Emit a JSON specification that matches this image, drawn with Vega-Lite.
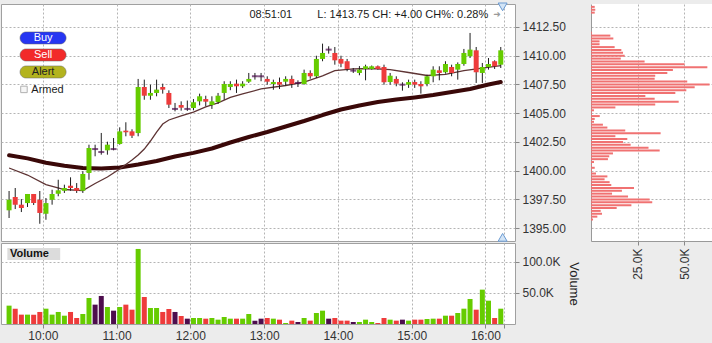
{
  "$schema": "https://vega.github.io/schema/vega-lite/v6.json",
  "background": "#ececec",
  "padding": {"left": 0, "top": 0, "right": 0, "bottom": 6},
  "config": {
    "font": "Liberation Sans",
    "view": {"fill": "#ffffff", "stroke": "#a0a0a0"},
    "axis": {"labelFont": "Liberation Sans", "labelFontSize": 12, "labelColor": "#333333", "gridColor": "#b4b4b4", "gridDash": [2, 2], "gridWidth": 1, "tickColor": "#888888", "tickSize": 4, "domainColor": "#999999", "titleFont": "Liberation Sans", "labelOverlap": false}
  },
  "spacing": {"row": 2, "column": 76},
  "bounds": "flush",
  "columns": 2,
  "datasets": {
    "candles": [
      {"t":572.5,"o":1396.55,"h":1398.23,"l":1395.88,"c":1397.47,"v":29.6,"dir":"up"},
      {"t":577.5,"o":1397.71,"h":1398.49,"l":1396.66,"c":1397.04,"v":24.7,"dir":"down"},
      {"t":582.5,"o":1397.04,"h":1397.53,"l":1396.40,"c":1396.75,"v":15.1,"dir":"down"},
      {"t":587.5,"o":1397.18,"h":1397.97,"l":1396.84,"c":1397.97,"v":15.1,"dir":"up"},
      {"t":592.5,"o":1397.97,"h":1397.97,"l":1397.01,"c":1397.18,"v":15.1,"dir":"down"},
      {"t":597.5,"o":1397.47,"h":1398.23,"l":1395.38,"c":1396.32,"v":19.4,"dir":"down"},
      {"t":602.5,"o":1396.25,"h":1397.62,"l":1395.73,"c":1397.18,"v":24.7,"dir":"up"},
      {"t":607.5,"o":1397.47,"h":1398.34,"l":1397.04,"c":1397.97,"v":15.1,"dir":"up"},
      {"t":612.5,"o":1397.99,"h":1399.21,"l":1397.77,"c":1398.29,"v":19.4,"dir":"up"},
      {"t":617.5,"o":1398.25,"h":1398.78,"l":1398.06,"c":1398.49,"v":13.4,"dir":"up"},
      {"t":622.5,"o":1398.69,"h":1399.42,"l":1398.25,"c":1398.49,"v":19.4,"dir":"down"},
      {"t":627.5,"o":1398.49,"h":1398.92,"l":1398.06,"c":1398.25,"v":9.7,"dir":"down"},
      {"t":632.5,"o":1398.25,"h":1399.94,"l":1398.06,"c":1399.71,"v":16.1,"dir":"up"},
      {"t":637.5,"o":1399.80,"h":1402.26,"l":1399.21,"c":1401.97,"v":41.9,"dir":"up"},
      {"t":642.5,"o":1401.88,"h":1402.26,"l":1401.25,"c":1401.88,"v":31.2,"dir":"flat"},
      {"t":647.5,"o":1401.62,"h":1403.28,"l":1401.39,"c":1401.62,"v":45.2,"dir":"flat"},
      {"t":652.5,"o":1401.77,"h":1402.52,"l":1401.39,"c":1402.26,"v":27.4,"dir":"up"},
      {"t":657.5,"o":1401.88,"h":1402.84,"l":1401.77,"c":1401.88,"v":21.5,"dir":"flat"},
      {"t":662.5,"o":1402.32,"h":1403.77,"l":1402.26,"c":1403.42,"v":27.4,"dir":"up"},
      {"t":667.5,"o":1403.48,"h":1404.21,"l":1402.99,"c":1403.34,"v":31.2,"dir":"down"},
      {"t":672.5,"o":1403.42,"h":1403.60,"l":1402.84,"c":1403.04,"v":23.1,"dir":"down"},
      {"t":677.5,"o":1403.27,"h":1407.98,"l":1402.99,"c":1407.28,"v":121.0,"dir":"up"},
      {"t":682.5,"o":1407.28,"h":1407.92,"l":1406.17,"c":1406.52,"v":43.5,"dir":"down"},
      {"t":687.5,"o":1406.52,"h":1407.48,"l":1406.17,"c":1406.76,"v":25.8,"dir":"up"},
      {"t":692.5,"o":1406.76,"h":1407.92,"l":1406.47,"c":1407.05,"v":25.8,"dir":"up"},
      {"t":697.5,"o":1407.28,"h":1407.57,"l":1406.70,"c":1407.05,"v":19.4,"dir":"down"},
      {"t":702.5,"o":1406.76,"h":1406.99,"l":1405.45,"c":1405.74,"v":24.2,"dir":"down"},
      {"t":707.5,"o":1405.37,"h":1405.89,"l":1405.16,"c":1405.37,"v":19.4,"dir":"flat"},
      {"t":712.5,"o":1405.71,"h":1406.03,"l":1405.22,"c":1405.48,"v":12.9,"dir":"down"},
      {"t":717.5,"o":1405.37,"h":1406.10,"l":1405.20,"c":1405.37,"v":8.6,"dir":"flat"},
      {"t":722.5,"o":1405.45,"h":1406.23,"l":1405.25,"c":1405.95,"v":9.7,"dir":"up"},
      {"t":727.5,"o":1406.03,"h":1406.70,"l":1405.68,"c":1406.47,"v":9.7,"dir":"up"},
      {"t":732.5,"o":1406.23,"h":1406.52,"l":1405.60,"c":1406.00,"v":8.6,"dir":"down"},
      {"t":737.5,"o":1405.71,"h":1406.47,"l":1405.37,"c":1406.03,"v":9.7,"dir":"up"},
      {"t":742.5,"o":1405.97,"h":1406.76,"l":1405.80,"c":1406.52,"v":7.0,"dir":"up"},
      {"t":747.5,"o":1406.76,"h":1407.78,"l":1406.17,"c":1407.54,"v":11.3,"dir":"up"},
      {"t":752.5,"o":1407.28,"h":1407.78,"l":1407.00,"c":1407.54,"v":8.6,"dir":"up"},
      {"t":757.5,"o":1407.57,"h":1407.92,"l":1406.76,"c":1407.34,"v":8.6,"dir":"down"},
      {"t":762.5,"o":1407.34,"h":1407.78,"l":1407.20,"c":1407.57,"v":8.6,"dir":"up"},
      {"t":767.5,"o":1407.74,"h":1408.50,"l":1407.63,"c":1407.98,"v":16.1,"dir":"up"},
      {"t":772.5,"o":1408.21,"h":1408.50,"l":1407.92,"c":1408.21,"v":5.4,"dir":"flat"},
      {"t":777.5,"o":1408.21,"h":1408.50,"l":1407.78,"c":1408.21,"v":8.6,"dir":"flat"},
      {"t":782.5,"o":1407.98,"h":1408.21,"l":1407.48,"c":1407.74,"v":9.7,"dir":"down"},
      {"t":787.5,"o":1407.54,"h":1407.92,"l":1407.04,"c":1407.71,"v":8.6,"dir":"up"},
      {"t":792.5,"o":1407.71,"h":1408.10,"l":1407.10,"c":1407.48,"v":7.0,"dir":"down"},
      {"t":797.5,"o":1407.74,"h":1408.21,"l":1407.39,"c":1407.98,"v":1.6,"dir":"up"},
      {"t":802.5,"o":1407.98,"h":1408.27,"l":1407.20,"c":1407.54,"v":5.4,"dir":"down"},
      {"t":807.5,"o":1407.63,"h":1407.86,"l":1407.28,"c":1407.63,"v":3.2,"dir":"flat"},
      {"t":812.5,"o":1407.54,"h":1408.79,"l":1407.48,"c":1408.50,"v":9.7,"dir":"up"},
      {"t":817.5,"o":1408.50,"h":1408.73,"l":1408.00,"c":1408.21,"v":5.4,"dir":"down"},
      {"t":822.5,"o":1408.21,"h":1410.00,"l":1408.06,"c":1409.72,"v":17.7,"dir":"up"},
      {"t":827.5,"o":1409.72,"h":1411.05,"l":1409.52,"c":1410.24,"v":21.5,"dir":"up"},
      {"t":832.5,"o":1410.53,"h":1410.82,"l":1410.18,"c":1410.53,"v":8.6,"dir":"flat"},
      {"t":837.5,"o":1410.24,"h":1410.76,"l":1409.22,"c":1409.60,"v":9.7,"dir":"down"},
      {"t":842.5,"o":1409.72,"h":1410.00,"l":1409.00,"c":1409.31,"v":5.4,"dir":"down"},
      {"t":847.5,"o":1409.52,"h":1409.72,"l":1408.65,"c":1408.85,"v":5.4,"dir":"down"},
      {"t":852.5,"o":1408.70,"h":1408.93,"l":1408.50,"c":1408.70,"v":3.2,"dir":"flat"},
      {"t":857.5,"o":1408.50,"h":1409.10,"l":1408.30,"c":1408.79,"v":3.2,"dir":"up"},
      {"t":862.5,"o":1408.85,"h":1409.22,"l":1407.86,"c":1409.08,"v":7.0,"dir":"up"},
      {"t":867.5,"o":1408.85,"h":1409.15,"l":1408.79,"c":1409.08,"v":3.2,"dir":"up"},
      {"t":872.5,"o":1409.08,"h":1409.15,"l":1408.79,"c":1408.85,"v":1.6,"dir":"down"},
      {"t":877.5,"o":1409.02,"h":1409.22,"l":1407.48,"c":1407.69,"v":9.7,"dir":"down"},
      {"t":882.5,"o":1407.71,"h":1408.50,"l":1407.48,"c":1408.26,"v":7.0,"dir":"up"},
      {"t":887.5,"o":1407.98,"h":1408.21,"l":1407.34,"c":1407.57,"v":5.4,"dir":"down"},
      {"t":892.5,"o":1407.48,"h":1407.69,"l":1406.96,"c":1407.48,"v":7.0,"dir":"flat"},
      {"t":897.5,"o":1407.48,"h":1407.92,"l":1407.20,"c":1407.71,"v":5.4,"dir":"up"},
      {"t":902.5,"o":1407.71,"h":1407.92,"l":1407.20,"c":1407.48,"v":7.0,"dir":"down"},
      {"t":907.5,"o":1407.54,"h":1407.78,"l":1406.70,"c":1407.34,"v":7.0,"dir":"down"},
      {"t":912.5,"o":1407.54,"h":1408.35,"l":1407.34,"c":1408.21,"v":8.1,"dir":"up"},
      {"t":917.5,"o":1408.21,"h":1409.08,"l":1407.69,"c":1408.79,"v":8.6,"dir":"up"},
      {"t":922.5,"o":1408.73,"h":1409.08,"l":1407.86,"c":1408.50,"v":8.6,"dir":"down"},
      {"t":927.5,"o":1408.56,"h":1409.52,"l":1408.44,"c":1409.28,"v":13.4,"dir":"up"},
      {"t":932.5,"o":1409.02,"h":1409.22,"l":1408.21,"c":1408.50,"v":13.4,"dir":"down"},
      {"t":937.5,"o":1408.79,"h":1409.42,"l":1407.92,"c":1409.28,"v":17.7,"dir":"up"},
      {"t":942.5,"o":1409.28,"h":1410.59,"l":1409.13,"c":1410.24,"v":24.7,"dir":"up"},
      {"t":947.5,"o":1409.95,"h":1411.98,"l":1409.80,"c":1410.53,"v":40.3,"dir":"up"},
      {"t":952.5,"o":1410.47,"h":1410.76,"l":1407.63,"c":1408.56,"v":23.1,"dir":"down"},
      {"t":957.5,"o":1408.50,"h":1409.37,"l":1407.63,"c":1409.02,"v":55.4,"dir":"up"},
      {"t":962.5,"o":1409.02,"h":1409.80,"l":1408.79,"c":1409.28,"v":37.6,"dir":"up"},
      {"t":967.5,"o":1409.52,"h":1409.60,"l":1408.85,"c":1409.08,"v":9.7,"dir":"down"},
      {"t":972.5,"o":1409.22,"h":1410.76,"l":1408.93,"c":1410.47,"v":24.7,"dir":"up"}
    ],
    "ma_slow": [
      {"t":572.5,"v":1401.34},{"t":587.5,"v":1401.07},{"t":602.5,"v":1400.69},{"t":617.5,"v":1400.43},
      {"t":632.5,"v":1400.23},{"t":647.5,"v":1400.19},{"t":662.5,"v":1400.27},{"t":677.5,"v":1400.53},
      {"t":692.5,"v":1400.84},{"t":707.5,"v":1401.23},{"t":722.5,"v":1401.55},{"t":737.5,"v":1401.93},
      {"t":752.5,"v":1402.45},{"t":767.5,"v":1402.93},{"t":782.5,"v":1403.36},{"t":797.5,"v":1403.84},
      {"t":812.5,"v":1404.32},{"t":827.5,"v":1404.84},{"t":842.5,"v":1405.32},{"t":857.5,"v":1405.67},
      {"t":872.5,"v":1405.97},{"t":887.5,"v":1406.19},{"t":902.5,"v":1406.37},{"t":917.5,"v":1406.58},
      {"t":932.5,"v":1406.84},{"t":947.5,"v":1407.11},{"t":962.5,"v":1407.50},{"t":972.5,"v":1407.71}
    ],
    "ma_fast": [
      {"t":572.5,"v":1400.23},{"t":587.5,"v":1399.62},{"t":602.5,"v":1398.79},{"t":617.5,"v":1398.36},
      {"t":632.5,"v":1398.27},{"t":642.5,"v":1398.88},{"t":652.5,"v":1399.45},{"t":662.5,"v":1400.14},
      {"t":672.5,"v":1400.93},{"t":677.5,"v":1401.36},{"t":682.5,"v":1401.88},{"t":687.5,"v":1402.58},
      {"t":692.5,"v":1403.36},{"t":697.5,"v":1404.06},{"t":702.5,"v":1404.41},{"t":712.5,"v":1404.76},
      {"t":722.5,"v":1405.10},{"t":732.5,"v":1405.54},{"t":742.5,"v":1405.89},{"t":752.5,"v":1406.37},
      {"t":762.5,"v":1406.67},{"t":777.5,"v":1407.11},{"t":797.5,"v":1407.41},{"t":812.5,"v":1407.70},
      {"t":827.5,"v":1408.25},{"t":837.5,"v":1408.70},{"t":852.5,"v":1408.85},{"t":867.5,"v":1408.89},
      {"t":882.5,"v":1408.79},{"t":897.5,"v":1408.54},{"t":912.5,"v":1408.28},{"t":927.5,"v":1408.37},
      {"t":942.5,"v":1408.70},{"t":957.5,"v":1408.93},{"t":972.5,"v":1409.13}
    ],
    "profile": [
      {"p":1414.25,"w":2.0},{"p":1414.0,"w":2.3},{"p":1413.75,"w":2.0},{"p":1412.0,"w":0.5},
      {"p":1411.75,"w":10.4},{"p":1411.5,"w":12.0},{"p":1411.25,"w":4.6},{"p":1411.0,"w":4.6},
      {"p":1410.75,"w":12.7},{"p":1410.5,"w":16.3},{"p":1410.25,"w":17.2},{"p":1410.0,"w":18.1},
      {"p":1409.75,"w":16.0},{"p":1409.5,"w":28.8},{"p":1409.25,"w":50.3},{"p":1409.0,"w":62.5},
      {"p":1408.75,"w":44.0},{"p":1408.5,"w":41.0},{"p":1408.25,"w":34.5},{"p":1408.0,"w":34.2},
      {"p":1407.75,"w":51.7},{"p":1407.5,"w":63.7},{"p":1407.25,"w":55.7},{"p":1407.0,"w":51.2},
      {"p":1406.75,"w":45.3},{"p":1406.5,"w":29.2},{"p":1406.25,"w":34.2},{"p":1406.0,"w":47.1},
      {"p":1405.75,"w":34.5},{"p":1405.5,"w":13.1},{"p":1405.25,"w":1.6},{"p":1405.0,"w":0.5},
      {"p":1404.75,"w":4.7},{"p":1404.5,"w":2.0},{"p":1404.25,"w":1.6},{"p":1404.0,"w":6.4},
      {"p":1403.75,"w":8.8},{"p":1403.5,"w":18.4},{"p":1403.25,"w":37.4},{"p":1403.0,"w":13.1},
      {"p":1402.75,"w":19.5},{"p":1402.5,"w":17.2},{"p":1402.25,"w":21.3},{"p":1402.0,"w":30.9},
      {"p":1401.75,"w":36.9},{"p":1401.5,"w":11.8},{"p":1401.25,"w":9.8},{"p":1401.0,"w":9.1},
      {"p":1400.75,"w":1.6},{"p":1400.5,"w":0.5},{"p":1400.25,"w":2.0},{"p":1400.0,"w":0.5},
      {"p":1399.75,"w":2.7},{"p":1399.5,"w":8.8},{"p":1399.25,"w":7.3},{"p":1399.0,"w":10.0},
      {"p":1398.75,"w":10.9},{"p":1398.5,"w":23.1},{"p":1398.25,"w":16.6},{"p":1398.0,"w":11.3},
      {"p":1397.75,"w":19.9},{"p":1397.5,"w":31.5},{"p":1397.25,"w":32.9},{"p":1397.0,"w":21.7},
      {"p":1396.75,"w":13.8},{"p":1396.5,"w":5.2},{"p":1396.25,"w":5.9},{"p":1396.0,"w":3.4},
      {"p":1395.75,"w":1.1}
    ],
    "buttons": [
      {"label":"Buy","t1":581.4,"t2":618.9,"p1":1412.07,"p2":1411.02,"tm":600.2,"pm":1411.54},
      {"label":"Sell","t1":581.4,"t2":618.9,"p1":1410.59,"p2":1409.54,"tm":600.2,"pm":1410.06},
      {"label":"Alert","t1":581.4,"t2":618.9,"p1":1409.11,"p2":1408.06,"tm":600.2,"pm":1408.59}
    ],
    "labels": [
      {"kind":"clock","t":785.4,"p":1413.55,"txt":"08:51:01"},
      {"kind":"quote","t":962.3,"p":1413.55,"txt":"L: 1413.75 CH: +4.00 CH%: 0.28%"},
      {"kind":"arrow","t":969.5,"p":1413.6,"txt":"➜"},
      {"kind":"armed","t":590.6,"p":1407.04,"txt":"Armed"}
    ],
    "checkbox": [{"t":584.6,"p":1407.07}],
    "scroll": [{"t":974.0,"p":1414.25,"dir":"down"},{"t":974.0,"p":1394.2,"dir":"up"}],
    "voltag": [{"label":"Volume","t1":571.1,"t2":614.1,"v1":103.2,"v2":122.5,"tt":573.2,"vt":112.9}]
  },
  "concat": [
    {
      "width": 514,
      "height": 237,
      "layer": [
        {
          "data": {"name": "ma_slow"},
          "mark": {"type": "line", "color": "#3a0808", "strokeWidth": 4, "strokeCap": "round", "strokeJoin": "round"},
          "encoding": {
            "x": {"field": "t", "type": "quantitative", "scale": {"domain": [570, 980], "nice": false, "zero": false},
                  "axis": {"orient": "bottom", "values": [600, 660, 720, 780, 840, 900, 960, 975], "labels": false, "ticks": false, "domain": false, "grid": true, "title": null}},
            "y": {"field": "v", "type": "quantitative", "scale": {"domain": [1393.88, 1414.5], "nice": false, "zero": false},
                  "axis": {"orient": "right", "values": [1395, 1397.5, 1400, 1402.5, 1405, 1407.5, 1410, 1412.5], "format": ".2f", "grid": true, "domain": false, "labelPadding": 3, "title": null}}
          }
        },
        {
          "mark": {"type": "rule", "color": "#7a7a7a", "strokeDash": [6, 3], "strokeWidth": 1},
          "encoding": {"y": {"datum": 1409.8, "type": "quantitative",
                  "axis": {"orient": "right", "values": [1395, 1397.5, 1400, 1402.5, 1405, 1407.5, 1410, 1412.5], "format": ".2f", "grid": true, "domain": false, "labelPadding": 3, "title": null}}}
        },
        {
          "data": {"name": "ma_fast"},
          "mark": {"type": "line", "color": "#5e3434", "strokeWidth": 1.3},
          "encoding": {
            "x": {"field": "t", "type": "quantitative",
                  "axis": {"orient": "bottom", "values": [600, 660, 720, 780, 840, 900, 960, 975], "labels": false, "ticks": false, "domain": false, "grid": true, "title": null}},
            "y": {"field": "v", "type": "quantitative",
                  "axis": {"orient": "right", "values": [1395, 1397.5, 1400, 1402.5, 1405, 1407.5, 1410, 1412.5], "format": ".2f", "grid": true, "domain": false, "labelPadding": 3, "title": null}}
          }
        },
        {
          "data": {"name": "candles"},
          "mark": {"type": "rule", "color": "#1e1e1e", "strokeWidth": 1},
          "encoding": {
            "x": {"field": "t", "type": "quantitative",
                  "axis": {"orient": "bottom", "values": [600, 660, 720, 780, 840, 900, 960, 975], "labels": false, "ticks": false, "domain": false, "grid": true, "title": null}},
            "y": {"field": "l", "type": "quantitative",
                  "axis": {"orient": "right", "values": [1395, 1397.5, 1400, 1402.5, 1405, 1407.5, 1410, 1412.5], "format": ".2f", "grid": true, "domain": false, "labelPadding": 3, "title": null}},
            "y2": {"field": "h"}
          }
        },
        {
          "data": {"name": "candles"},
          "mark": {"type": "bar", "size": 5},
          "encoding": {
            "x": {"field": "t", "type": "quantitative",
                  "axis": {"orient": "bottom", "values": [600, 660, 720, 780, 840, 900, 960, 975], "labels": false, "ticks": false, "domain": false, "grid": true, "title": null}},
            "y": {"field": "o", "type": "quantitative",
                  "axis": {"orient": "right", "values": [1395, 1397.5, 1400, 1402.5, 1405, 1407.5, 1410, 1412.5], "format": ".2f", "grid": true, "domain": false, "labelPadding": 3, "title": null}},
            "y2": {"field": "c"},
            "color": {"field": "dir", "type": "nominal", "scale": {"domain": ["up", "down", "flat"], "range": ["#66cc00", "#ee3b3b", "#4d0d4d"]}, "legend": null}
          }
        },
        {
          "data": {"name": "candles"},
          "transform": [{"filter": "datum.dir === 'flat'"}],
          "mark": {"type": "tick", "orient": "horizontal", "size": 6, "thickness": 2, "color": "#4d0d4d"},
          "encoding": {
            "x": {"field": "t", "type": "quantitative",
                  "axis": {"orient": "bottom", "values": [600, 660, 720, 780, 840, 900, 960, 975], "labels": false, "ticks": false, "domain": false, "grid": true, "title": null}},
            "y": {"field": "o", "type": "quantitative",
                  "axis": {"orient": "right", "values": [1395, 1397.5, 1400, 1402.5, 1405, 1407.5, 1410, 1412.5], "format": ".2f", "grid": true, "domain": false, "labelPadding": 3, "title": null}}
          }
        },
        {
          "data": {"name": "buttons"},
          "mark": {"type": "rect", "cornerRadius": 6, "stroke": "#666666", "strokeWidth": 0.5},
          "encoding": {
            "x": {"field": "t1", "type": "quantitative",
                  "axis": {"orient": "bottom", "values": [600, 660, 720, 780, 840, 900, 960, 975], "labels": false, "ticks": false, "domain": false, "grid": true, "title": null}},
            "x2": {"field": "t2"},
            "y": {"field": "p1", "type": "quantitative",
                  "axis": {"orient": "right", "values": [1395, 1397.5, 1400, 1402.5, 1405, 1407.5, 1410, 1412.5], "format": ".2f", "grid": true, "domain": false, "labelPadding": 3, "title": null}},
            "y2": {"field": "p2"},
            "fill": {"condition": [{"test": "datum.label === 'Buy'", "value": "#2636f2"}, {"test": "datum.label === 'Sell'", "value": "#f22a2a"}], "value": "#b3b31e"}
          }
        },
        {
          "data": {"name": "buttons"},
          "mark": {"type": "text", "fontSize": 11, "align": "center", "baseline": "middle"},
          "encoding": {
            "x": {"field": "tm", "type": "quantitative",
                  "axis": {"orient": "bottom", "values": [600, 660, 720, 780, 840, 900, 960, 975], "labels": false, "ticks": false, "domain": false, "grid": true, "title": null}},
            "y": {"field": "pm", "type": "quantitative",
                  "axis": {"orient": "right", "values": [1395, 1397.5, 1400, 1402.5, 1405, 1407.5, 1410, 1412.5], "format": ".2f", "grid": true, "domain": false, "labelPadding": 3, "title": null}},
            "text": {"field": "label"},
            "color": {"condition": {"test": "datum.label === 'Alert'", "value": "#222222"}, "value": "#ffffff"}
          }
        },
        {
          "data": {"name": "checkbox"},
          "mark": {"type": "square", "size": 42, "fill": "#f6f6f6", "stroke": "#b0b0b0", "strokeWidth": 1, "opacity": 1},
          "encoding": {
            "x": {"field": "t", "type": "quantitative",
                  "axis": {"orient": "bottom", "values": [600, 660, 720, 780, 840, 900, 960, 975], "labels": false, "ticks": false, "domain": false, "grid": true, "title": null}},
            "y": {"field": "p", "type": "quantitative",
                  "axis": {"orient": "right", "values": [1395, 1397.5, 1400, 1402.5, 1405, 1407.5, 1410, 1412.5], "format": ".2f", "grid": true, "domain": false, "labelPadding": 3, "title": null}}
          }
        },
        {
          "data": {"name": "labels"},
          "transform": [{"filter": "datum.kind === 'clock'"}],
          "mark": {"type": "text", "fontSize": 11, "align": "center", "baseline": "middle", "color": "#1a1a1a"},
          "encoding": {
            "x": {"field": "t", "type": "quantitative",
                  "axis": {"orient": "bottom", "values": [600, 660, 720, 780, 840, 900, 960, 975], "labels": false, "ticks": false, "domain": false, "grid": true, "title": null}},
            "y": {"field": "p", "type": "quantitative",
                  "axis": {"orient": "right", "values": [1395, 1397.5, 1400, 1402.5, 1405, 1407.5, 1410, 1412.5], "format": ".2f", "grid": true, "domain": false, "labelPadding": 3, "title": null}},
            "text": {"field": "txt"}
          }
        },
        {
          "data": {"name": "labels"},
          "transform": [{"filter": "datum.kind === 'quote'"}],
          "mark": {"type": "text", "fontSize": 11, "align": "right", "baseline": "middle", "color": "#1a1a1a"},
          "encoding": {
            "x": {"field": "t", "type": "quantitative",
                  "axis": {"orient": "bottom", "values": [600, 660, 720, 780, 840, 900, 960, 975], "labels": false, "ticks": false, "domain": false, "grid": true, "title": null}},
            "y": {"field": "p", "type": "quantitative",
                  "axis": {"orient": "right", "values": [1395, 1397.5, 1400, 1402.5, 1405, 1407.5, 1410, 1412.5], "format": ".2f", "grid": true, "domain": false, "labelPadding": 3, "title": null}},
            "text": {"field": "txt"}
          }
        },
        {
          "data": {"name": "labels"},
          "transform": [{"filter": "datum.kind === 'arrow'"}],
          "mark": {"type": "text", "fontSize": 9, "align": "center", "baseline": "middle", "color": "#9a9a9a", "font": "DejaVu Sans"},
          "encoding": {
            "x": {"field": "t", "type": "quantitative",
                  "axis": {"orient": "bottom", "values": [600, 660, 720, 780, 840, 900, 960, 975], "labels": false, "ticks": false, "domain": false, "grid": true, "title": null}},
            "y": {"field": "p", "type": "quantitative",
                  "axis": {"orient": "right", "values": [1395, 1397.5, 1400, 1402.5, 1405, 1407.5, 1410, 1412.5], "format": ".2f", "grid": true, "domain": false, "labelPadding": 3, "title": null}},
            "text": {"field": "txt"}
          }
        },
        {
          "data": {"name": "labels"},
          "transform": [{"filter": "datum.kind === 'armed'"}],
          "mark": {"type": "text", "fontSize": 11, "align": "left", "baseline": "middle", "color": "#1a1a1a"},
          "encoding": {
            "x": {"field": "t", "type": "quantitative",
                  "axis": {"orient": "bottom", "values": [600, 660, 720, 780, 840, 900, 960, 975], "labels": false, "ticks": false, "domain": false, "grid": true, "title": null}},
            "y": {"field": "p", "type": "quantitative",
                  "axis": {"orient": "right", "values": [1395, 1397.5, 1400, 1402.5, 1405, 1407.5, 1410, 1412.5], "format": ".2f", "grid": true, "domain": false, "labelPadding": 3, "title": null}},
            "text": {"field": "txt"}
          }
        },
        {
          "data": {"name": "scroll"},
          "mark": {"type": "point", "filled": true, "size": 80, "fill": "#d3e4f5", "stroke": "#6a9ad2", "strokeWidth": 1, "opacity": 1},
          "encoding": {
            "x": {"field": "t", "type": "quantitative",
                  "axis": {"orient": "bottom", "values": [600, 660, 720, 780, 840, 900, 960, 975], "labels": false, "ticks": false, "domain": false, "grid": true, "title": null}},
            "y": {"field": "p", "type": "quantitative",
                  "axis": {"orient": "right", "values": [1395, 1397.5, 1400, 1402.5, 1405, 1407.5, 1410, 1412.5], "format": ".2f", "grid": true, "domain": false, "labelPadding": 3, "title": null}},
            "shape": {"field": "dir", "type": "nominal", "scale": {"domain": ["up", "down"], "range": ["triangle-up", "triangle-down"]}, "legend": null}
          }
        }
      ]
    },
    {
      "width": 121,
      "height": 237,
      "view": {"stroke": null},
      "data": {"name": "profile"},
      "mark": {"type": "rule", "color": "#f07272", "strokeWidth": 2},
      "encoding": {
        "x": {"field": "w", "type": "quantitative", "scale": {"domain": [0, 65], "nice": false, "zero": true},
              "axis": {"orient": "bottom", "values": [25, 50], "labelExpr": "format(datum.value, '.1f') + 'K'", "labelAngle": -90, "grid": true, "domain": true, "ticks": true, "labelPadding": 3, "title": null}},
        "x2": {"datum": 0},
        "y": {"field": "p", "type": "quantitative", "scale": {"domain": [1393.88, 1414.5], "nice": false, "zero": false},
              "axis": {"orient": "left", "values": [1395, 1397.5, 1400, 1402.5, 1405, 1407.5, 1410, 1412.5], "labels": false, "ticks": false, "domain": true, "grid": true, "title": null}}
      }
    },
    {
      "width": 514,
      "height": 81,
      "layer": [
        {
          "data": {"name": "candles"},
          "mark": {"type": "bar", "size": 5},
          "encoding": {
            "x": {"field": "t", "type": "quantitative", "scale": {"domain": [570, 980], "nice": false, "zero": false},
                  "axis": {"orient": "bottom", "values": [600, 660, 720, 780, 840, 900, 960, 975], "labelExpr": "datum.value == 975 ? '' : floor(datum.value / 60) + ':00'", "grid": true, "domain": false, "ticks": true, "labelFlush": false, "labelPadding": 2, "title": null}},
            "y": {"field": "v", "type": "quantitative", "scale": {"domain": [0, 130.6], "nice": false, "zero": true},
                  "axis": {"orient": "right", "values": [50, 100], "labelExpr": "format(datum.value, '.1f') + 'K'", "grid": true, "domain": false, "labelPadding": 3, "title": "Volume", "titleAngle": 90, "titleFontSize": 13, "titleFontWeight": "normal", "titleColor": "#222222", "titlePadding": 6}},
            "color": {"field": "dir", "type": "nominal", "scale": {"domain": ["up", "down", "flat"], "range": ["#66cc00", "#ee3b3b", "#4d0d4d"]}, "legend": null}
          }
        },
        {
          "data": {"name": "voltag"},
          "mark": {"type": "rect", "fill": "#dcdcdc"},
          "encoding": {
            "x": {"field": "t1", "type": "quantitative",
                  "axis": {"orient": "bottom", "values": [600, 660, 720, 780, 840, 900, 960, 975], "labelExpr": "datum.value == 975 ? '' : floor(datum.value / 60) + ':00'", "grid": true, "domain": false, "ticks": true, "labelFlush": false, "labelPadding": 2, "title": null}},
            "x2": {"field": "t2"},
            "y": {"field": "v1", "type": "quantitative",
                  "axis": {"orient": "right", "values": [50, 100], "labelExpr": "format(datum.value, '.1f') + 'K'", "grid": true, "domain": false, "labelPadding": 3, "title": "Volume", "titleAngle": 90, "titleFontSize": 13, "titleFontWeight": "normal", "titleColor": "#222222", "titlePadding": 6}},
            "y2": {"field": "v2"}
          }
        },
        {
          "data": {"name": "voltag"},
          "mark": {"type": "text", "fontSize": 11, "fontWeight": "bold", "align": "left", "baseline": "middle", "color": "#111111"},
          "encoding": {
            "x": {"field": "tt", "type": "quantitative",
                  "axis": {"orient": "bottom", "values": [600, 660, 720, 780, 840, 900, 960, 975], "labelExpr": "datum.value == 975 ? '' : floor(datum.value / 60) + ':00'", "grid": true, "domain": false, "ticks": true, "labelFlush": false, "labelPadding": 2, "title": null}},
            "y": {"field": "vt", "type": "quantitative",
                  "axis": {"orient": "right", "values": [50, 100], "labelExpr": "format(datum.value, '.1f') + 'K'", "grid": true, "domain": false, "labelPadding": 3, "title": "Volume", "titleAngle": 90, "titleFontSize": 13, "titleFontWeight": "normal", "titleColor": "#222222", "titlePadding": 6}},
            "text": {"field": "label"}
          }
        }
      ]
    }
  ]
}
